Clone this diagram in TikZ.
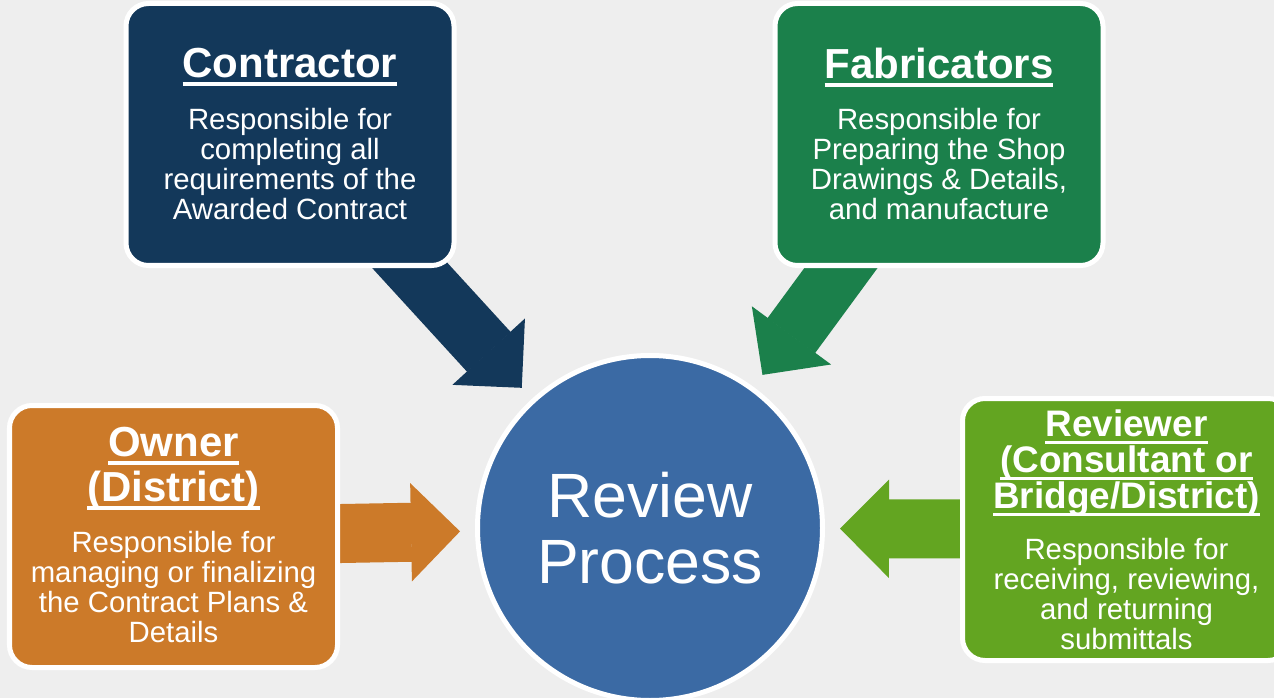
\documentclass[tikz,border=0pt]{standalone}
\usepackage{fontspec}
\setmainfont{Liberation Sans}
\usetikzlibrary{arrows.meta,backgrounds}

\definecolor{PageGray}{HTML}{EEEEEE}
\definecolor{ContrNavy}{HTML}{13385A}
\definecolor{FabGreen}{HTML}{1B804B}
\definecolor{OwnerOrange}{HTML}{CC7A29}
\definecolor{RevLime}{HTML}{63A521}
\definecolor{HubBlue}{HTML}{3B6AA4}

% thick underline for the box headings
\newcommand\hdline[1]{\sbox0{#1}\rlap{\usebox0}\rule[-0.21em]{\wd0}{0.09em}}

\begin{document}
\begin{tikzpicture}[
  role/.style={rectangle,rounded corners=0.45cm,draw=white,line width=0.1cm,
               minimum width=6.56cm,minimum height=5.24cm,inner sep=0pt},
  rolehead/.style={text=white,align=center,anchor=north,inner sep=0pt,
               font=\bfseries\fontsize{23.9}{25.6}\selectfont},
  roletext/.style={text=white,align=center,anchor=north,inner sep=0pt,
               font=\fontsize{16.7}{17.1}\selectfont},
  hub/.style={circle,draw=white,line width=0.1cm,fill=HubBlue,minimum size=6.9cm,
              text=white,align=center,font=\fontsize{35.6}{37.6}\selectfont},
  feed/.style={line width=1.18cm,shorten >=0.3cm,
               -{Triangle[length=0.98cm,width=1.96cm,line width=1pt]}}
]
  \useasboundingbox (0,0) rectangle (25.48,13.96);

  % Roles
  \node[role,fill=ContrNavy]   (contractor)  at (5.80,11.27)  {};
  \node[role,fill=FabGreen]    (fabricators) at (18.78,11.27) {};
  \node[role,fill=OwnerOrange] (owner)       at (3.47,3.23)   {};
  \node[role,fill=RevLime]     (reviewer)    at (22.53,3.37)  {};
  \node[hub] (review) at (13.0,3.40) {Review\\Process};

  \node[rolehead] (contractor-h) at (5.80,13.01) {\hdline{Contractor}};
  \node[roletext] (contractor-t) at (5.80,11.81)
    {Responsible for\\completing all\\requirements of the\\Awarded Contract};

  \node[rolehead] (fabricators-h) at (18.78,13.01) {\hdline{Fabricators}};
  \node[roletext] (fabricators-t) at (18.78,11.81)
    {Responsible for\\Preparing the Shop\\Drawings \& Details,\\and manufacture};

  \node[rolehead] (owner-h) at (3.47,5.43) {\hdline{Owner}\\\hdline{(District)}};
  \node[roletext] (owner-t) at (3.47,3.35)
    {Responsible for\\managing or finalizing\\the Contract Plans \&\\Details};

  \node[rolehead,font=\bfseries\fontsize{21}{20.5}\selectfont] (reviewer-h) at (22.53,5.78)
    {\hdline{Reviewer}\\\hdline{(Consultant or}\\\hdline{Bridge/District)}};
  \node[roletext] (reviewer-t) at (22.53,3.21)
    {Responsible for\\receiving, reviewing,\\and returning\\submittals};

  % Block arrows into the review, behind the boxes
  \begin{scope}[on background layer]
    \fill[PageGray] (0,0) rectangle (25.48,13.96);
    \draw[feed,ContrNavy]   (contractor.center)  -- (review);
    \draw[feed,FabGreen]    (fabricators.center) -- (review);
    \draw[feed,OwnerOrange] (owner.center)       -- (review);
    \draw[feed,RevLime]     (reviewer.center)    -- (review);
  \end{scope}
\end{tikzpicture}
\end{document}
